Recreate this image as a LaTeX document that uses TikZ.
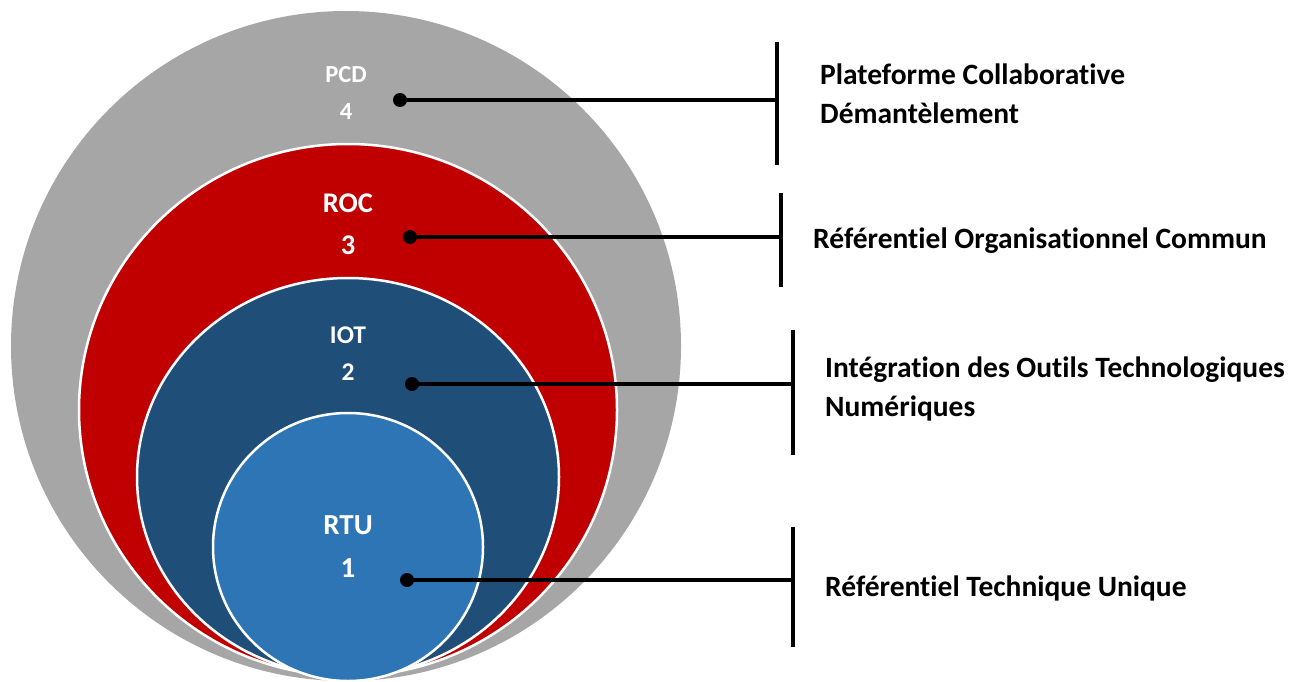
\documentclass[tikz,border=0pt]{standalone}
\usepackage{fontspec}
\setmainfont{Carlito}[Ligatures=NoCommon]
\definecolor{cgray}{HTML}{A6A6A6}
\definecolor{cred}{HTML}{C00000}
\definecolor{cnavy}{HTML}{1F4E79}
\definecolor{cblue}{HTML}{2E75B6}
\begin{document}
\begin{tikzpicture}[x=1pt,y=-1pt,
  ring/.style={draw=white,line width=2.5pt},
  lab/.style={text=white,inner sep=0pt,font=\bfseries\fontsize{#1}{#1}\selectfont},
  lab/.default=24,
  desc/.style={anchor=west,align=left,inner sep=0pt,font=\bfseries\fontsize{29.5}{39}\selectfont},
  dotmark/.style={circle,fill=black,inner sep=0pt,minimum size=14pt},
  conn/.style={line width=3.5pt},
  bar/.style={line width=3.5pt}]
\useasboundingbox (0,0) rectangle (1303,682);
% circles
\fill[cgray] (346,346) ellipse [x radius=335, y radius=335];
\filldraw[cred,ring] (348,410) ellipse [x radius=269, y radius=266];
\filldraw[cnavy,ring] (348,477) ellipse [x radius=211, y radius=199];
\filldraw[cblue,ring] (348,547) ellipse [x radius=135, y radius=134];
% labels inside
\node[lab=24.5] (pcd) at (346,75) {PCD};
\node[lab=24.5] (n4) at (346,112) {4};
\node[lab=28.5] (roc) at (348,203) {ROC};
\node[lab=28.5] (n3) at (348,245) {3};
\node[lab=25.5] (iot) at (348,335) {IOT};
\node[lab=25.5] (n2) at (348,372) {2};
\node[lab=29] (rtu) at (348,525) {RTU};
\node[lab=29] (n1) at (348,568) {1};
% dots
\node[dotmark] (d4) at (400,100) {};
\node[dotmark] (d3) at (410,237) {};
\node[dotmark] (d2) at (412,384) {};
\node[dotmark] (d1) at (407,580) {};
% bars
\coordinate (b4t) at (777,42);  \coordinate (b4b) at (777,165); \coordinate (b4) at (777,100);
\coordinate (b3t) at (781,193); \coordinate (b3b) at (781,287); \coordinate (b3) at (781,237);
\coordinate (b2t) at (793,330); \coordinate (b2b) at (793,455); \coordinate (b2) at (793,384);
\coordinate (b1t) at (793,527); \coordinate (b1b) at (793,647); \coordinate (b1) at (793,580);
\draw[bar] (b4t) -- (b4b);
\draw[bar] (b3t) -- (b3b);
\draw[bar] (b2t) -- (b2b);
\draw[bar] (b1t) -- (b1b);
\draw[conn] (d4.center) -- (b4);
\draw[conn] (d3.center) -- (b3);
\draw[conn] (d2.center) -- (b2);
\draw[conn] (d1.center) -- (b1);
% descriptions
\node[desc] (t4) at (820,94) {Plateforme Collaborative\\Démantèlement};
\node[desc] (t3) at (813,241) {Référentiel Organisationnel Commun};
\node[desc] (t2) at (825,389) {Intégration des Outils Technologiques\\Numériques};
\node[desc] (t1) at (825,588) {Référentiel Technique Unique};
\end{tikzpicture}
\end{document}
